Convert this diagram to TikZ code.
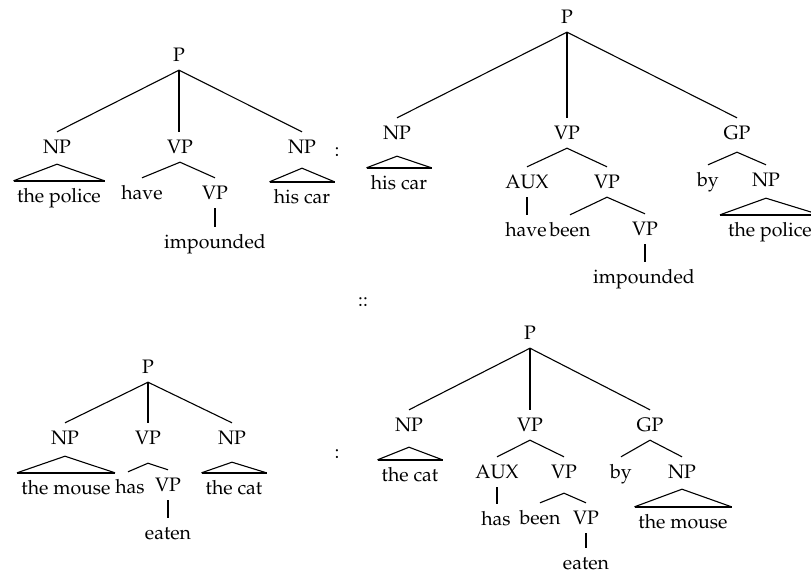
\documentclass[tikz,border=0pt]{standalone}
\usepackage[T1]{fontenc}
\usepackage{mathpazo}
\newcommand{\mytri}[4]{%
  \draw[thinl] ([xshift=-#3pt]#2.north) -- ([yshift=-#4pt]#1.south) -- ([xshift=#3pt]#2.north);
  \draw[thickl] ([xshift=-#3pt]#2.north) -- ([xshift=#3pt]#2.north);}
\begin{document}
\begin{tikzpicture}[x=1pt,y=-1pt,
  lab/.style={inner sep=0pt, minimum height=30pt, text height=16pt, text depth=2.5pt, font=\fontsize{19.5}{22}\selectfont},
  thinl/.style={line width=1.1pt},
  thickl/.style={line width=2.6pt}]
\useasboundingbox (0,0) rectangle (811,574);
% ---------- Tree 1 (top-left)
\node[lab] (P1) at (179,55) {P};
\node[lab] (a1) at (57,147) {NP};
\node[lab] (b1) at (180,147) {VP};
\node[lab] (c1) at (302,147) {NP};
\node[lab] (a1t) at (59,196) {the police};
\node[lab] (h1) at (142,193) {have};
\node[lab] (d1) at (215,193) {VP};
\node[lab] (i1) at (215,242) {impounded};
\node[lab] (c1t) at (302,197) {his car};
\node[lab] (col1) at (337,150) {:};
\draw[thinl] (P1.south) -- (a1.north);
\draw[thickl] (P1.south) -- (P1.south |- b1.north);
\draw[thinl] (P1.south) -- (c1.north);
\mytri{a1}{a1t}{45.5}{2}
\mytri{c1}{c1t}{32.5}{6}
\draw[thinl] (b1.south) -- (h1.north);
\draw[thinl] (b1.south) -- (d1.north);
\draw[thickl] (d1.south) -- (d1.south |- i1.north);
% ---------- Tree 2 (top-right)
\node[lab] (P2) at (567,17) {P};
\node[lab] (a2) at (397,133) {NP};
\node[lab] (b2) at (567,133) {VP};
\node[lab] (c2) at (737,133) {GP};
\node[lab] (a2t) at (399,183) {his car};
\node[lab] (x2) at (527,182) {AUX};
\node[lab] (d2) at (607,182) {VP};
\node[lab] (h2) at (526,230) {have};
\node[lab] (n2) at (570,230) {been};
\node[lab] (e2) at (645,229) {VP};
\node[lab] (i2) at (644,277) {impounded};
\node[lab] (y2) at (708,180) {by};
\node[lab] (f2) at (766,180) {NP};
\node[lab] (f2t) at (770,230) {the police};
\draw[thinl] (P2.south) -- (a2.north);
\draw[thinl] (P2.south) -- (P2.south |- b2.north);
\draw[thinl] (P2.south) -- (c2.north);
\mytri{a2}{a2t}{32.5}{8}
\draw[thinl] (b2.south) -- (x2.north);
\draw[thinl] (b2.south) -- (d2.north);
\draw[thickl] (x2.south) -- (x2.south |- h2.north);
\draw[thinl] (d2.south) -- (n2.north);
\draw[thinl] (d2.south) -- (e2.north);
\draw[thickl] (e2.south) -- (e2.south |- i2.north);
\draw[thinl] ([yshift=-4pt]c2.south) -- (y2.north);
\draw[thinl] ([yshift=-4pt]c2.south) -- (f2.north);
\mytri{f2}{f2t}{50}{3}
% ---------- middle
\node[lab] (mid) at (363,300) {::};
% ---------- Tree 3 (bottom-left)
\node[lab] (P3) at (148,367) {P};
\node[lab] (a3) at (65,438) {NP};
\node[lab] (b3) at (148,438) {VP};
\node[lab] (c3) at (232,438) {NP};
\node[lab] (a3t) at (66,488) {the mouse};
\node[lab] (h3) at (130,487) {has};
\node[lab] (d3) at (168,485) {VP};
\node[lab] (e3) at (168,533) {eaten};
\node[lab] (c3t) at (234,488) {the cat};
\node[lab] (col3) at (337,452) {:};
\draw[thinl] (P3.south) -- (a3.north);
\draw[thinl] (P3.south) -- (P3.south |- b3.north);
\draw[thinl] (P3.south) -- (c3.north);
\mytri{a3}{a3t}{49}{3}
\mytri{c3}{c3t}{32.5}{9}
\draw[thinl] ([yshift=-10pt]b3.south) -- ([xshift=-2pt]h3.north);
\draw[thinl] ([yshift=-10pt]b3.south) -- (d3.north);
\draw[thickl] (d3.south) -- (d3.south |- e3.north);
% ---------- Tree 4 (bottom-right)
\node[lab] (P4) at (530,333) {P};
\node[lab] (a4) at (409,425) {NP};
\node[lab] (b4) at (530,425) {VP};
\node[lab] (c4) at (650,425) {GP};
\node[lab] (a4t) at (410,475) {the cat};
\node[lab] (x4) at (497,472) {AUX};
\node[lab] (d4) at (564,472) {VP};
\node[lab] (h4) at (496,519) {has};
\node[lab] (n4) at (540,518) {been};
\node[lab] (e4) at (586,518) {VP};
\node[lab] (t4) at (586,563) {eaten};
\node[lab] (y4) at (621,472) {by};
\node[lab] (f4) at (682,472) {NP};
\node[lab] (f4t) at (683,522) {the mouse};
\draw[thinl] (P4.south) -- (a4.north);
\draw[thickl] (P4.south) -- (P4.south |- b4.north);
\draw[thinl] (P4.south) -- (c4.north);
\mytri{a4}{a4t}{32.5}{7}
\draw[thinl] (b4.south) -- (x4.north);
\draw[thinl] (b4.south) -- (d4.north);
\draw[thickl] (x4.south) -- (x4.south |- h4.north);
\draw[thinl] ([yshift=-6pt]d4.south) -- (n4.north);
\draw[thinl] ([yshift=-6pt]d4.south) -- (e4.north);
\draw[thickl] (e4.south) -- (e4.south |- t4.north);
\draw[thinl] (c4.south) -- (y4.north);
\draw[thinl] (c4.south) -- (f4.north);
\mytri{f4}{f4t}{48.5}{2}
\end{tikzpicture}
\end{document}
